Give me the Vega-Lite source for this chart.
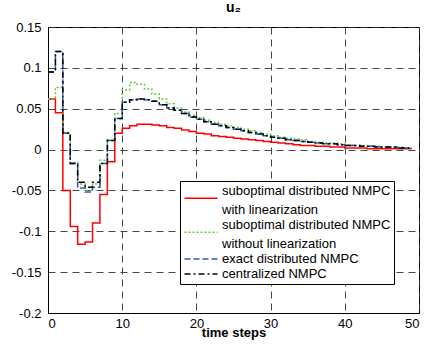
{
"$schema": "https://vega.github.io/schema/vega-lite/v6.json",
"width": 371, "height": 286,
"autosize": {"type": "none"},
"padding": {"left": 48, "top": 27, "right": 12, "bottom": 37},
"background": "white",
"title": {"text": "u₂", "fontSize": 14, "fontWeight": "bold", "font": "Liberation Sans", "color": "black", "offset": 6},
"config": {
  "font": "Liberation Sans",
  "view": {"stroke": "black", "strokeWidth": 1},
  "axis": {"domainColor": "black", "gridColor": "#333", "gridDash": [7, 5], "gridWidth": 1, "gridOpacity": 0.9, "tickSize": 0, "labelFontSize": 13, "labelColor": "black", "titleFontSize": 13, "titleFontWeight": "bold", "titleColor": "black"}
},
"datasets": {
"d": [
{"t":0,"s":"a","v":0.062},{"t":1,"s":"a","v":0.045},{"t":2,"s":"a","v":-0.05},{"t":3,"s":"a","v":-0.094},{"t":4,"s":"a","v":-0.116},{"t":5,"s":"a","v":-0.113},{"t":6,"s":"a","v":-0.09},{"t":7,"s":"a","v":-0.055},{"t":8,"s":"a","v":-0.015},{"t":9,"s":"a","v":0.02},
{"t":10,"s":"a","v":0.026},{"t":11,"s":"a","v":0.029},{"t":12,"s":"a","v":0.031},{"t":13,"s":"a","v":0.031},{"t":14,"s":"a","v":0.030},{"t":15,"s":"a","v":0.029},{"t":16,"s":"a","v":0.027},{"t":17,"s":"a","v":0.026},{"t":18,"s":"a","v":0.024},{"t":19,"s":"a","v":0.022},
{"t":20,"s":"a","v":0.020},{"t":21,"s":"a","v":0.019},{"t":22,"s":"a","v":0.017},{"t":23,"s":"a","v":0.016},{"t":24,"s":"a","v":0.015},{"t":25,"s":"a","v":0.014},{"t":26,"s":"a","v":0.013},{"t":27,"s":"a","v":0.012},{"t":28,"s":"a","v":0.011},{"t":29,"s":"a","v":0.010},
{"t":30,"s":"a","v":0.009},{"t":31,"s":"a","v":0.008},{"t":32,"s":"a","v":0.007},{"t":33,"s":"a","v":0.006},{"t":34,"s":"a","v":0.005},{"t":35,"s":"a","v":0.005},{"t":36,"s":"a","v":0.004},{"t":37,"s":"a","v":0.004},{"t":38,"s":"a","v":0.003},{"t":39,"s":"a","v":0.003},
{"t":40,"s":"a","v":0.002},{"t":41,"s":"a","v":0.002},{"t":42,"s":"a","v":0.002},{"t":43,"s":"a","v":0.001},{"t":44,"s":"a","v":0.001},{"t":45,"s":"a","v":0.001},{"t":46,"s":"a","v":0.001},{"t":47,"s":"a","v":0.001},{"t":48,"s":"a","v":0.001},{"t":49,"s":"a","v":0.001},
{"t":0,"s":"b","v":0.062},{"t":1,"s":"b","v":0.076},{"t":2,"s":"b","v":0.021},{"t":3,"s":"b","v":-0.016},{"t":4,"s":"b","v":-0.042},{"t":5,"s":"b","v":-0.05},{"t":6,"s":"b","v":-0.042},{"t":7,"s":"b","v":-0.013},{"t":8,"s":"b","v":0.012},{"t":9,"s":"b","v":0.044},
{"t":10,"s":"b","v":0.073},{"t":11,"s":"b","v":0.082},{"t":12,"s":"b","v":0.080},{"t":13,"s":"b","v":0.074},{"t":14,"s":"b","v":0.068},{"t":15,"s":"b","v":0.062},{"t":16,"s":"b","v":0.056},{"t":17,"s":"b","v":0.051},{"t":18,"s":"b","v":0.046},{"t":19,"s":"b","v":0.042},
{"t":20,"s":"b","v":0.039},{"t":21,"s":"b","v":0.036},{"t":22,"s":"b","v":0.033},{"t":23,"s":"b","v":0.031},{"t":24,"s":"b","v":0.029},{"t":25,"s":"b","v":0.027},{"t":26,"s":"b","v":0.025},{"t":27,"s":"b","v":0.023},{"t":28,"s":"b","v":0.021},{"t":29,"s":"b","v":0.019},
{"t":30,"s":"b","v":0.017},{"t":31,"s":"b","v":0.015},{"t":32,"s":"b","v":0.014},{"t":33,"s":"b","v":0.013},{"t":34,"s":"b","v":0.012},{"t":35,"s":"b","v":0.010},{"t":36,"s":"b","v":0.009},{"t":37,"s":"b","v":0.008},{"t":38,"s":"b","v":0.008},{"t":39,"s":"b","v":0.007},
{"t":40,"s":"b","v":0.006},{"t":41,"s":"b","v":0.005},{"t":42,"s":"b","v":0.005},{"t":43,"s":"b","v":0.004},{"t":44,"s":"b","v":0.004},{"t":45,"s":"b","v":0.003},{"t":46,"s":"b","v":0.003},{"t":47,"s":"b","v":0.003},{"t":48,"s":"b","v":0.002},{"t":49,"s":"b","v":0.002},
{"t":0,"s":"c","v":0.095},{"t":1,"s":"c","v":0.12},{"t":2,"s":"c","v":0.02},{"t":3,"s":"c","v":-0.017},{"t":4,"s":"c","v":-0.047},{"t":5,"s":"c","v":-0.052},{"t":6,"s":"c","v":-0.046},{"t":7,"s":"c","v":-0.017},{"t":8,"s":"c","v":0.011},{"t":9,"s":"c","v":0.038},
{"t":10,"s":"c","v":0.058},{"t":11,"s":"c","v":0.061},{"t":12,"s":"c","v":0.062},{"t":13,"s":"c","v":0.061},{"t":14,"s":"c","v":0.059},{"t":15,"s":"c","v":0.055},{"t":16,"s":"c","v":0.051},{"t":17,"s":"c","v":0.048},{"t":18,"s":"c","v":0.044},{"t":19,"s":"c","v":0.040},
{"t":20,"s":"c","v":0.037},{"t":21,"s":"c","v":0.034},{"t":22,"s":"c","v":0.031},{"t":23,"s":"c","v":0.029},{"t":24,"s":"c","v":0.027},{"t":25,"s":"c","v":0.025},{"t":26,"s":"c","v":0.023},{"t":27,"s":"c","v":0.021},{"t":28,"s":"c","v":0.019},{"t":29,"s":"c","v":0.017},
{"t":30,"s":"c","v":0.015},{"t":31,"s":"c","v":0.014},{"t":32,"s":"c","v":0.012},{"t":33,"s":"c","v":0.011},{"t":34,"s":"c","v":0.010},{"t":35,"s":"c","v":0.009},{"t":36,"s":"c","v":0.008},{"t":37,"s":"c","v":0.007},{"t":38,"s":"c","v":0.007},{"t":39,"s":"c","v":0.006},
{"t":40,"s":"c","v":0.005},{"t":41,"s":"c","v":0.005},{"t":42,"s":"c","v":0.004},{"t":43,"s":"c","v":0.004},{"t":44,"s":"c","v":0.003},{"t":45,"s":"c","v":0.003},{"t":46,"s":"c","v":0.003},{"t":47,"s":"c","v":0.002},{"t":48,"s":"c","v":0.002},{"t":49,"s":"c","v":0.002},
{"t":0,"s":"d","v":0.095},{"t":1,"s":"d","v":0.12},{"t":2,"s":"d","v":0.02},{"t":3,"s":"d","v":-0.017},{"t":4,"s":"d","v":-0.040},{"t":5,"s":"d","v":-0.046},{"t":6,"s":"d","v":-0.040},{"t":7,"s":"d","v":-0.017},{"t":8,"s":"d","v":0.011},{"t":9,"s":"d","v":0.038},
{"t":10,"s":"d","v":0.058},{"t":11,"s":"d","v":0.061},{"t":12,"s":"d","v":0.062},{"t":13,"s":"d","v":0.061},{"t":14,"s":"d","v":0.059},{"t":15,"s":"d","v":0.055},{"t":16,"s":"d","v":0.051},{"t":17,"s":"d","v":0.048},{"t":18,"s":"d","v":0.044},{"t":19,"s":"d","v":0.040},
{"t":20,"s":"d","v":0.037},{"t":21,"s":"d","v":0.034},{"t":22,"s":"d","v":0.031},{"t":23,"s":"d","v":0.029},{"t":24,"s":"d","v":0.027},{"t":25,"s":"d","v":0.025},{"t":26,"s":"d","v":0.023},{"t":27,"s":"d","v":0.021},{"t":28,"s":"d","v":0.019},{"t":29,"s":"d","v":0.017},
{"t":30,"s":"d","v":0.015},{"t":31,"s":"d","v":0.014},{"t":32,"s":"d","v":0.012},{"t":33,"s":"d","v":0.011},{"t":34,"s":"d","v":0.010},{"t":35,"s":"d","v":0.009},{"t":36,"s":"d","v":0.008},{"t":37,"s":"d","v":0.007},{"t":38,"s":"d","v":0.007},{"t":39,"s":"d","v":0.006},
{"t":40,"s":"d","v":0.005},{"t":41,"s":"d","v":0.005},{"t":42,"s":"d","v":0.004},{"t":43,"s":"d","v":0.004},{"t":44,"s":"d","v":0.003},{"t":45,"s":"d","v":0.003},{"t":46,"s":"d","v":0.003},{"t":47,"s":"d","v":0.002},{"t":48,"s":"d","v":0.002},{"t":49,"s":"d","v":0.002}
]
},
"data": {"name": "d"},
"encoding": {
  "x": {"field": "t", "type": "quantitative", "scale": {"domain": [0, 50], "nice": false}, "axis": {"values": [0, 10, 20, 30, 40, 50], "title": "time steps", "labelPadding": 4, "titlePadding": -4}},
  "y": {"field": "v", "type": "quantitative", "scale": {"domain": [-0.2, 0.15], "nice": false, "zero": false}, "axis": {"values": [-0.2, -0.15, -0.1, -0.05, 0, 0.05, 0.1, 0.15], "title": null, "labelPadding": 7, "labelExpr": "'' + round(datum.value*100)/100"}},
  "color": {"field": "s", "type": "nominal", "scale": {"domain": ["a", "a2", "b", "b2", "c", "d"], "range": ["#ff0000", "transparent", "#66cc33", "transparent", "#3355bb", "#000000"]},
    "legend": {"orient": "none", "legendX": 132, "legendY": 154, "title": null, "symbolType": "M-2.75,0H2.75", "symbolSize": 144, "symbolStrokeWidth": 1.5, "symbolOffset": 11, "labelFontSize": 13, "labelColor": "black", "labelLimit": 0, "strokeColor": "black", "fillColor": "white", "padding": 3, "rowPadding": 1, "labelOffset": 14,
      "encode": {"symbols": {"update": {"shape": {"signal": "datum.value=='a' || datum.value=='b' ? 'M-2.75,1.2H2.75' : 'M-2.75,0H2.75'"}}}},
      "labelExpr": "datum.value=='a' ? 'suboptimal distributed NMPC' : datum.value=='a2' ? '\u00a0with linearization' : datum.value=='b' ? 'suboptimal distributed NMPC' : datum.value=='b2' ? '\u00a0without linearization' : datum.value=='c' ? 'exact distributed NMPC' : 'centralized NMPC'"}},
  "strokeDash": {"field": "s", "type": "nominal", "scale": {"domain": ["a", "a2", "b", "b2", "c", "d"], "range": [[1, 0], [1, 0], [2, 2], [1, 0], [6, 3], [6, 3, 2, 3]]},
    "legend": {"orient": "none", "legendX": 132, "legendY": 154, "title": null, "symbolType": "M-2.75,0H2.75", "symbolSize": 144, "symbolStrokeWidth": 1.5, "symbolOffset": 11, "labelFontSize": 13, "labelColor": "black", "labelLimit": 0, "strokeColor": "black", "fillColor": "white", "padding": 3, "rowPadding": 1, "labelOffset": 14,
      "encode": {"symbols": {"update": {"shape": {"signal": "datum.value=='a' || datum.value=='b' ? 'M-2.75,1.2H2.75' : 'M-2.75,0H2.75'"}}}},
      "labelExpr": "datum.value=='a' ? 'suboptimal distributed NMPC' : datum.value=='a2' ? '\u00a0with linearization' : datum.value=='b' ? 'suboptimal distributed NMPC' : datum.value=='b2' ? '\u00a0without linearization' : datum.value=='c' ? 'exact distributed NMPC' : 'centralized NMPC'"}}
},
"layer": [
  {"transform": [{"filter": {"field": "s", "equal": "a"}}], "mark": {"type": "line", "interpolate": "step-after", "strokeWidth": 1.5, "clip": true}},
  {"transform": [{"filter": {"field": "s", "equal": "b"}}], "mark": {"type": "line", "interpolate": "step-after", "strokeWidth": 1.5, "clip": true}},
  {"transform": [{"filter": {"field": "s", "equal": "c"}}], "mark": {"type": "line", "interpolate": "step-after", "strokeWidth": 1.5, "clip": true}},
  {"transform": [{"filter": {"field": "s", "equal": "d"}}], "mark": {"type": "line", "interpolate": "step-after", "strokeWidth": 1.5, "clip": true}}
]
}
